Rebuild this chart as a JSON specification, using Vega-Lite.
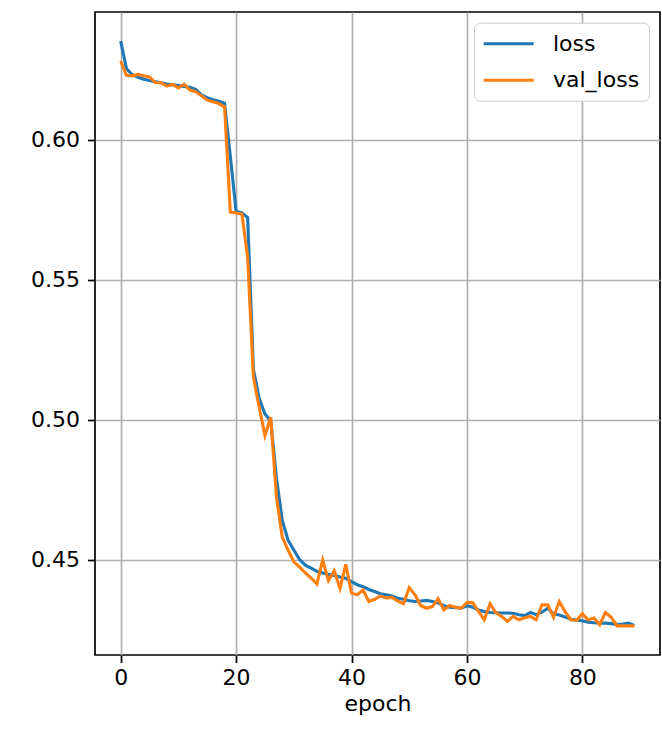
{
  "$schema": "https://vega.github.io/schema/vega-lite/v6.json",
  "width": 565,
  "height": 643,
  "autosize": "none",
  "padding": {"left": 95, "top": 12, "right": 2, "bottom": 76},
  "background": "white",
  "config": {
    "font": "DejaVu Sans",
    "view": {"stroke": "black", "strokeWidth": 1.7}
  },
  "data": {
    "values": [
      {"epoch":0,"loss":0.6352,"val_loss":0.6281},
      {"epoch":1,"loss":0.6254,"val_loss":0.6230},
      {"epoch":2,"loss":0.6232,"val_loss":0.6228},
      {"epoch":3,"loss":0.6223,"val_loss":0.6233},
      {"epoch":4,"loss":0.6216,"val_loss":0.6228},
      {"epoch":5,"loss":0.6211,"val_loss":0.6224},
      {"epoch":6,"loss":0.6207,"val_loss":0.6204},
      {"epoch":7,"loss":0.6203,"val_loss":0.6203},
      {"epoch":8,"loss":0.6199,"val_loss":0.6191},
      {"epoch":9,"loss":0.6196,"val_loss":0.6197},
      {"epoch":10,"loss":0.6193,"val_loss":0.6185},
      {"epoch":11,"loss":0.6190,"val_loss":0.6198},
      {"epoch":12,"loss":0.6187,"val_loss":0.6177},
      {"epoch":13,"loss":0.6180,"val_loss":0.6171},
      {"epoch":14,"loss":0.6160,"val_loss":0.6157},
      {"epoch":15,"loss":0.6150,"val_loss":0.6141},
      {"epoch":16,"loss":0.6143,"val_loss":0.6135},
      {"epoch":17,"loss":0.6137,"val_loss":0.6129},
      {"epoch":18,"loss":0.6130,"val_loss":0.6117},
      {"epoch":19,"loss":0.5940,"val_loss":0.5741},
      {"epoch":20,"loss":0.5744,"val_loss":0.5738},
      {"epoch":21,"loss":0.5738,"val_loss":0.5734},
      {"epoch":22,"loss":0.5722,"val_loss":0.5580},
      {"epoch":23,"loss":0.5180,"val_loss":0.5150},
      {"epoch":24,"loss":0.5075,"val_loss":0.5044},
      {"epoch":25,"loss":0.5020,"val_loss":0.4943},
      {"epoch":26,"loss":0.4995,"val_loss":0.5008},
      {"epoch":27,"loss":0.4790,"val_loss":0.4722},
      {"epoch":28,"loss":0.4640,"val_loss":0.4580},
      {"epoch":29,"loss":0.4569,"val_loss":0.4534},
      {"epoch":30,"loss":0.4534,"val_loss":0.4492},
      {"epoch":31,"loss":0.4500,"val_loss":0.4473},
      {"epoch":32,"loss":0.4480,"val_loss":0.4452},
      {"epoch":33,"loss":0.4469,"val_loss":0.4434},
      {"epoch":34,"loss":0.4458,"val_loss":0.4413},
      {"epoch":35,"loss":0.4452,"val_loss":0.4498},
      {"epoch":36,"loss":0.4447,"val_loss":0.4425},
      {"epoch":37,"loss":0.4443,"val_loss":0.4460},
      {"epoch":38,"loss":0.4438,"val_loss":0.4397},
      {"epoch":39,"loss":0.4433,"val_loss":0.4483},
      {"epoch":40,"loss":0.4421,"val_loss":0.4380},
      {"epoch":41,"loss":0.4410,"val_loss":0.4374},
      {"epoch":42,"loss":0.4403,"val_loss":0.4391},
      {"epoch":43,"loss":0.4393,"val_loss":0.4350},
      {"epoch":44,"loss":0.4386,"val_loss":0.4358},
      {"epoch":45,"loss":0.4378,"val_loss":0.4370},
      {"epoch":46,"loss":0.4374,"val_loss":0.4363},
      {"epoch":47,"loss":0.4370,"val_loss":0.4365},
      {"epoch":48,"loss":0.4362,"val_loss":0.4352},
      {"epoch":49,"loss":0.4358,"val_loss":0.4342},
      {"epoch":50,"loss":0.4353,"val_loss":0.4400},
      {"epoch":51,"loss":0.4350,"val_loss":0.4374},
      {"epoch":52,"loss":0.4352,"val_loss":0.4336},
      {"epoch":53,"loss":0.4354,"val_loss":0.4326},
      {"epoch":54,"loss":0.4350,"val_loss":0.4332},
      {"epoch":55,"loss":0.4345,"val_loss":0.4360},
      {"epoch":56,"loss":0.4335,"val_loss":0.4320},
      {"epoch":57,"loss":0.4330,"val_loss":0.4336},
      {"epoch":58,"loss":0.4328,"val_loss":0.4330},
      {"epoch":59,"loss":0.4326,"val_loss":0.4326},
      {"epoch":60,"loss":0.4335,"val_loss":0.4346},
      {"epoch":61,"loss":0.4330,"val_loss":0.4346},
      {"epoch":62,"loss":0.4320,"val_loss":0.4315},
      {"epoch":63,"loss":0.4314,"val_loss":0.4285},
      {"epoch":64,"loss":0.4311,"val_loss":0.4342},
      {"epoch":65,"loss":0.4310,"val_loss":0.4310},
      {"epoch":66,"loss":0.4309,"val_loss":0.4297},
      {"epoch":67,"loss":0.4309,"val_loss":0.4279},
      {"epoch":68,"loss":0.4308,"val_loss":0.4297},
      {"epoch":69,"loss":0.4303,"val_loss":0.4285},
      {"epoch":70,"loss":0.4300,"val_loss":0.4292},
      {"epoch":71,"loss":0.4311,"val_loss":0.4297},
      {"epoch":72,"loss":0.4303,"val_loss":0.4285},
      {"epoch":73,"loss":0.4312,"val_loss":0.4338},
      {"epoch":74,"loss":0.4326,"val_loss":0.4338},
      {"epoch":75,"loss":0.4306,"val_loss":0.4294},
      {"epoch":76,"loss":0.4302,"val_loss":0.4350},
      {"epoch":77,"loss":0.4295,"val_loss":0.4314},
      {"epoch":78,"loss":0.4287,"val_loss":0.4285},
      {"epoch":79,"loss":0.4284,"val_loss":0.4283},
      {"epoch":80,"loss":0.4281,"val_loss":0.4306},
      {"epoch":81,"loss":0.4276,"val_loss":0.4285},
      {"epoch":82,"loss":0.4274,"val_loss":0.4291},
      {"epoch":83,"loss":0.4273,"val_loss":0.4267},
      {"epoch":84,"loss":0.4273,"val_loss":0.4311},
      {"epoch":85,"loss":0.4271,"val_loss":0.4294},
      {"epoch":86,"loss":0.4268,"val_loss":0.4263},
      {"epoch":87,"loss":0.4270,"val_loss":0.4263},
      {"epoch":88,"loss":0.4273,"val_loss":0.4263},
      {"epoch":89,"loss":0.4265,"val_loss":0.4263}
    ]
  },
  "transform": [{"fold": ["loss", "val_loss"], "as": ["series", "value"]}],
  "mark": {"type": "line", "strokeWidth": 3.1, "clip": true},
  "encoding": {
    "x": {
      "field": "epoch",
      "type": "quantitative",
      "scale": {"domain": [-4.45, 93.45], "nice": false, "zero": false},
      "axis": {
        "title": "epoch",
        "values": [0, 20, 40, 60, 80],
        "format": "d",
        "grid": true,
        "gridColor": "#b0b0b0",
        "gridWidth": 1.7,
        "domain": false,
        "tickColor": "black",
        "tickSize": 7.5,
        "tickWidth": 1.7,
        "labelFont": "DejaVu Sans",
        "labelFontSize": 22,
        "labelColor": "black",
        "labelPadding": 5,
        "titleFont": "DejaVu Sans",
        "titleFontSize": 22,
        "titleFontWeight": "normal",
        "titleColor": "black",
        "titlePadding": 5
      }
    },
    "y": {
      "field": "value",
      "type": "quantitative",
      "scale": {"domain": [0.4159, 0.6456], "nice": false, "zero": false},
      "axis": {
        "title": null,
        "values": [0.45, 0.5, 0.55, 0.6],
        "format": ".2f",
        "grid": true,
        "gridColor": "#b0b0b0",
        "gridWidth": 1.7,
        "domain": false,
        "tickColor": "black",
        "tickSize": 7.5,
        "tickWidth": 1.7,
        "labelFont": "DejaVu Sans",
        "labelFontSize": 22,
        "labelColor": "black",
        "labelPadding": 8
      }
    },
    "color": {
      "field": "series",
      "type": "nominal",
      "scale": {"domain": ["loss", "val_loss"], "range": ["#1f77b4", "#ff7f0e"]},
      "legend": {
        "title": null,
        "orient": "none",
        "legendX": 379,
        "legendY": 10.7,
        "symbolType": "M-1.13,0H3.87",
        "symbolSize": 400,
        "symbolStrokeWidth": 3.1,
        "symbolFillColor": "transparent",
        "labelFont": "DejaVu Sans",
        "labelFontSize": 22,
        "labelColor": "black",
        "labelOffset": 46,
        "rowPadding": 13.6,
        "padding": 9,
        "fillColor": "white",
        "strokeColor": "#cccccc",
        "cornerRadius": 6
      }
    }
  }
}
